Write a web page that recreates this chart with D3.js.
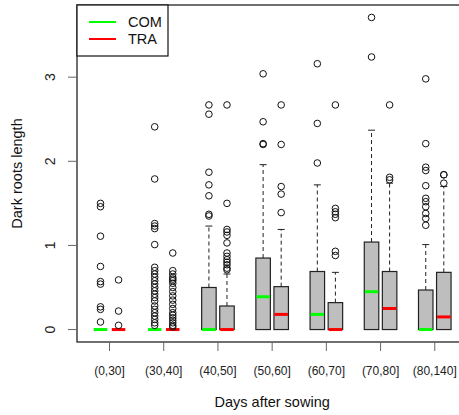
<!DOCTYPE html>
<html>
<head>
<meta charset="utf-8">
<script src="https://cdn.jsdelivr.net/npm/d3@7"></script>
<style>
  html, body { margin: 0; padding: 0; background: #fff; }
  svg { display: block; font-family: "Liberation Sans", Arial, sans-serif; }
</style>
</head>
<body>
<svg id="chart" width="459" height="415"></svg>
<script>
const categories = ['(0,30]', '(30,40]', '(40,50]', '(50,60]', '(60,70]', '(70,80]', '(80,140]']
const seriesNames = ['COM', 'TRA']
const seriesColors = ['#00ff00', '#ff0000']
const yTicks = [0, 1, 2, 3]

// box stats per category: [q1, median, q3, upper whisker]
const comStats = [
  [0, 0, 0, 0],
  [0, 0, 0, 0],
  [0, 0, 0.50, 1.23],
  [0, 0.39, 0.85, 1.96],
  [0, 0.18, 0.69, 1.72],
  [0, 0.45, 1.04, 2.37],
  [0, 0, 0.47, 1.01]
]
const traStats = [
  [0, 0, 0, 0],
  [0, 0, 0, 0],
  [0, 0, 0.28, 0.66],
  [0, 0.18, 0.51, 1.19],
  [0, 0, 0.32, 0.68],
  [0, 0.25, 0.69, 1.74],
  [0, 0.15, 0.68, 1.70]
]

const comOutliers = [
  [1.50, 1.46, 1.11, 0.75, 0.57, 0.54, 0.27, 0.24, 0.09],
  [2.41, 1.79, 1.26, 1.23, 1.20, 1.01, 0.74, 0.70, 0.66, 0.62, 0.58, 0.54, 0.50, 0.46, 0.42, 0.38,
   0.34, 0.28, 0.24, 0.20, 0.16, 0.12, 0.08, 0.05],
  [2.67, 2.56, 1.87, 1.72, 1.59, 1.37, 1.35],
  [3.04, 2.47, 2.21, 2.20],
  [3.16, 2.45, 1.98],
  [3.71, 3.24],
  [2.98, 2.21, 1.93, 1.89, 1.71, 1.56, 1.52, 1.46, 1.38, 1.32, 1.24]
]
const traOutliers = [
  [0.59, 0.22, 0.05],
  [0.91, 0.70, 0.66, 0.62, 0.60, 0.58, 0.55, 0.50, 0.45, 0.40, 0.35, 0.30, 0.25, 0.20, 0.17,
   0.14, 0.11, 0.08, 0.05, 0.03],
  [2.67, 1.50, 1.19, 1.16, 1.12, 1.03, 0.91, 0.87, 0.83, 0.80, 0.77, 0.73, 0.71],
  [2.67, 2.20, 1.70, 1.61, 1.39],
  [2.67, 1.44, 1.40, 1.37, 1.33, 0.93, 0.88],
  [2.67, 1.81, 1.78],
  [1.84, 1.84, 1.74]
]

const plot = { left: 77, top: 5, bottom: 342, right: 467.3 }
const boxW = 14.5
const capW = 7

const svg = d3.select('#chart')

// boxes sit at 1,2 / 4,5 / ... like R's boxplot(at=...)
const pos = (gi, si) => gi * 3 + 1 + si
const x = d3.scaleLinear().domain([-0.3, 21.3]).range([plot.left, plot.right])
const y = d3.scaleLinear().domain([-0.148, 3.858]).range([plot.bottom, plot.top])

const boxes = []
categories.forEach((c, gi) => {
  boxes.push({ gi, si: 0, stats: comStats[gi], out: comOutliers[gi] })
  boxes.push({ gi, si: 1, stats: traStats[gi], out: traOutliers[gi] })
})

const g = svg.append('g')

// whiskers
boxes.filter(b => b.stats[3] > b.stats[2]).forEach(b => {
  const cx = x(pos(b.gi, b.si))
  g.append('line')
    .attr('x1', cx).attr('x2', cx)
    .attr('y1', y(b.stats[2])).attr('y2', y(b.stats[3]))
    .attr('stroke', '#222').attr('stroke-width', 1)
    .attr('stroke-dasharray', '4,3')
  g.append('line')
    .attr('x1', cx - capW / 2).attr('x2', cx + capW / 2)
    .attr('y1', y(b.stats[3])).attr('y2', y(b.stats[3]))
    .attr('stroke', '#222').attr('stroke-width', 1)
})

// boxes
g.selectAll('rect.box')
    .data(boxes)
  .enter().append('rect')
    .attr('class', 'box')
    .attr('x', d => x(pos(d.gi, d.si)) - boxW / 2)
    .attr('y', d => y(d.stats[2]))
    .attr('width', boxW)
    .attr('height', d => y(d.stats[0]) - y(d.stats[2]))
    .attr('fill', '#bebebe')
    .attr('stroke', '#222')
    .attr('stroke-width', 1.2)

// medians
g.selectAll('line.median')
    .data(boxes)
  .enter().append('line')
    .attr('class', 'median')
    .attr('x1', d => x(pos(d.gi, d.si)) - boxW / 2 + 0.5)
    .attr('x2', d => x(pos(d.gi, d.si)) + boxW / 2 - 0.5)
    .attr('y1', d => y(d.stats[1]))
    .attr('y2', d => y(d.stats[1]))
    .attr('stroke', d => seriesColors[d.si])
    .attr('stroke-width', 3)

// outliers
boxes.forEach(b => {
  g.selectAll(null)
      .data(b.out)
    .enter().append('circle')
      .attr('cx', x(pos(b.gi, b.si)))
      .attr('cy', v => y(v))
      .attr('r', 3.3)
      .attr('fill', 'none')
      .attr('stroke', '#111')
      .attr('stroke-width', 1)
})

// frame
svg.append('rect')
  .attr('x', plot.left).attr('y', plot.top)
  .attr('width', plot.right - plot.left)
  .attr('height', plot.bottom - plot.top)
  .attr('fill', 'none').attr('stroke', '#111').attr('stroke-width', 1.2)

// y axis
const yAxis = svg.append('g')
yTicks.forEach(t => {
  yAxis.append('line')
    .attr('x1', plot.left - 9).attr('x2', plot.left)
    .attr('y1', y(t)).attr('y2', y(t))
    .attr('stroke', '#666')
  yAxis.append('text')
    .attr('transform', 'translate(' + 55 + ',' + y(t) + ') rotate(-90)')
    .attr('text-anchor', 'middle')
    .attr('font-size', 14)
    .attr('fill', '#222')
    .text(t)
})
svg.append('text')
  .attr('transform', 'translate(22,' + (plot.top + plot.bottom) / 2 + ') rotate(-90)')
  .attr('text-anchor', 'middle')
  .attr('font-size', 14.5)
  .attr('fill', '#111')
  .text('Dark roots length')

// x axis
const xAxis = svg.append('g')
categories.forEach((c, gi) => {
  const cx = x(gi * 3 + 1.5)
  xAxis.append('line')
    .attr('x1', cx).attr('x2', cx)
    .attr('y1', plot.bottom).attr('y2', plot.bottom + 9)
    .attr('stroke', '#666')
  xAxis.append('text')
    .attr('x', cx).attr('y', 375)
    .attr('text-anchor', 'middle')
    .attr('font-size', 12)
    .attr('fill', '#222')
    .text(c)
})
svg.append('text')
  .attr('x', x(10.5)).attr('y', 407)
  .attr('text-anchor', 'middle')
  .attr('font-size', 14.5)
  .attr('fill', '#111')
  .text('Days after sowing')

// legend
const legend = svg.append('g')
legend.append('rect')
  .attr('x', plot.left).attr('y', plot.top)
  .attr('width', 91).attr('height', 51)
  .attr('fill', '#fff').attr('stroke', '#111').attr('stroke-width', 1.2)
seriesNames.forEach((s, i) => {
  const ly = 22 + i * 17
  legend.append('line')
    .attr('x1', 89).attr('x2', 116)
    .attr('y1', ly).attr('y2', ly)
    .attr('stroke', seriesColors[i]).attr('stroke-width', 2)
  legend.append('text')
    .attr('x', 128).attr('y', ly + 5)
    .attr('font-size', 14.5)
    .attr('fill', '#111')
    .text(s)
})
</script>
</body>
</html>
